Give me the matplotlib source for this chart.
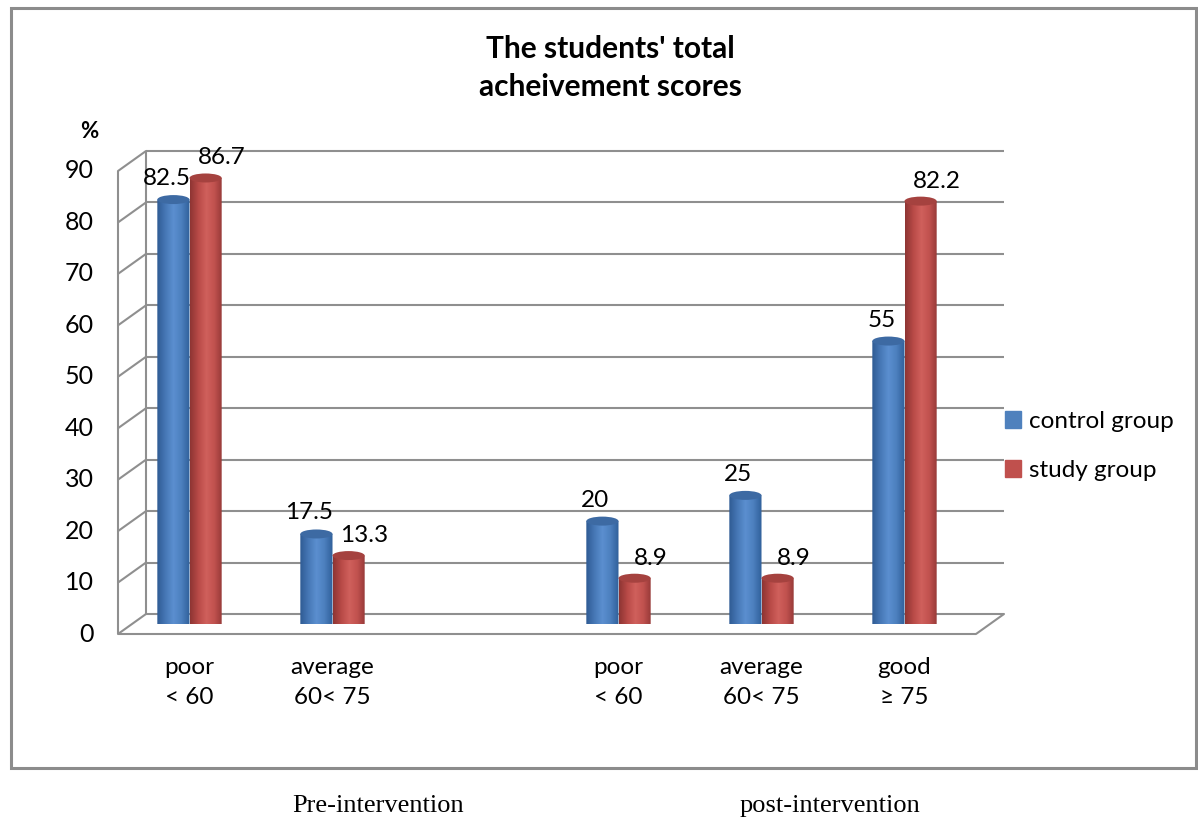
import numpy as np
import matplotlib.pyplot as plt
from matplotlib.colors import LinearSegmentedColormap
from matplotlib.patches import Ellipse, PathPatch, Patch, Rectangle
from matplotlib.path import Path
from matplotlib.transforms import ScaledTranslation

# data
positions = [0, 1, 3, 4, 5]
categories = ["poor\n< 60", "average\n60< 75", "poor\n< 60", "average\n60< 75", "good\n≥ 75"]
control = [82.5, 17.5, 20, 25, 55]
study = [86.7, 13.3, 8.9, 8.9, 82.2]
series_names = ["control group", "study group"]
yticks = list(range(0, 100, 10))
phases = ["Pre-intervention", "post-intervention"]
phase_x = [378, 830]

plt.rcParams['font.family'] = ['Lato', 'DejaVu Sans']

W, H = 1198, 822
fig = plt.figure(figsize=(W / 100, H / 100), dpi=100)
ax = fig.add_axes([118 / W, 1 - 624 / H, 858 / W, 463 / H])
ax.set_xlim(-0.5, 5.5)
ax.set_ylim(0, 90)
ax.patch.set_visible(False)
for s in ax.spines.values():
    s.set_visible(False)
ax.set_yticks([])

# pseudo 3D walls: front plane and back plane offsets (pixels)
front = ax.transData + ScaledTranslation(0, -0.10, fig.dpi_scale_trans)
back = ax.transData + ScaledTranslation(0.28, 0.10, fig.dpi_scale_trans)
grid_c = '#8f8f8f'
lw = 1.5

ax.hlines(yticks, -0.5, 5.5, color=grid_c, lw=lw, transform=back, zorder=1, clip_on=False)
ax.vlines(-0.5, 0, 90, color=grid_c, lw=lw, transform=back, zorder=1, clip_on=False)
ax.vlines(-0.5, 0, 90, color=grid_c, lw=lw, transform=front, zorder=1, clip_on=False)
ax.hlines(0, -0.5, 5.5, color=grid_c, lw=lw, transform=front, zorder=1, clip_on=False)
for v in yticks:
    ax.annotate('', xy=(-0.5, v), xycoords=front, xytext=(28, 20), textcoords='offset pixels',
                arrowprops=dict(arrowstyle='-', color=grid_c, lw=lw, shrinkA=0, shrinkB=0))
    ax.annotate(str(v), xy=(-0.5, v), xycoords=front, xytext=(-24, 0), textcoords='offset pixels',
                ha='right', va='center', fontsize=18)
ax.annotate('', xy=(5.5, 0), xycoords=front, xytext=(28, 20), textcoords='offset pixels',
            arrowprops=dict(arrowstyle='-', color=grid_c, lw=lw, shrinkA=0, shrinkB=0))
ax.annotate('%', xy=(-0.5, 90), xycoords=front, xytext=(-29, 39), textcoords='offset pixels',
            ha='center', va='center', fontsize=16, fontweight='bold')

# cylinders
w = 0.225
eh = 1.75
blue_cm = LinearSegmentedColormap.from_list('b', ['#2f5b94', '#4677b5', '#5b8fd0', '#4c7fbe', '#30609a'])
red_cm = LinearSegmentedColormap.from_list('r', ['#8e3533', '#b84a47', '#d0605c', '#c0514e', '#933836'])
grad = np.linspace(0, 1, 64)[None, :]


def cylinder(xc, h, cmap, top_color, z):
    x0, x1 = xc - w / 2, xc + w / 2
    t = np.linspace(np.pi, 2 * np.pi, 40)
    pts = np.column_stack([xc + w / 2 * np.cos(t), eh / 2 * np.sin(t)])
    pts = np.vstack([[x0, h], pts, [x1, h], [x0, h]])
    body = PathPatch(Path(pts), facecolor='none', edgecolor='none', transform=ax.transData)
    ax.add_patch(body)
    im = ax.imshow(grad, extent=(x0, x1, -eh / 2, h), cmap=cmap, aspect='auto', zorder=z)
    im.set_clip_path(body)
    ax.add_patch(Ellipse((xc, h), w, eh, facecolor=top_color, edgecolor='none', zorder=z + 0.1))


bars_c = ax.bar([p - w / 2 for p in positions], control, w, color='none', zorder=3)
bars_s = ax.bar([p + w / 2 for p in positions], study, w, color='none', zorder=4)
for b, v in zip(bars_c, control):
    cylinder(b.get_x() + w / 2, v, blue_cm, '#3d6aa3', 3)
for b, v in zip(bars_s, study):
    cylinder(b.get_x() + w / 2, v, red_cm, '#a5423f', 4)

for p, v in zip(positions, control):
    ax.annotate(f"{v:g}", xy=(p - w / 2, v), xytext=(-7, 21), textcoords='offset pixels',
                ha='center', va='center', fontsize=17.5, zorder=6)
for p, v in zip(positions, study):
    ax.annotate(f"{v:g}", xy=(p + w / 2, v), xytext=(16, 20), textcoords='offset pixels',
                ha='center', va='center', fontsize=17.5, zorder=6)

ax.set_xlim(-0.5, 5.5)
ax.set_ylim(0, 90)
ax.set_xticks(positions, categories, fontsize=17.5, linespacing=1.5)
ax.tick_params(axis='x', length=0, pad=24)

fig.text(610 / W, 1 - 68 / H, "The students' total\nacheivement scores", ha='center', va='center',
         fontsize=21.5, fontweight='bold', linespacing=1.4)

fig.legend(handles=[Patch(color='#4F81BD'), Patch(color='#C0504D')], labels=series_names,
           loc='center left', bbox_to_anchor=(983 / W, 1 - 446 / H), frameon=False, fontsize=17.5,
           handlelength=0.65, handleheight=0.65, handletextpad=0.35, labelspacing=1.15)

fig.add_artist(Rectangle((11 / W, 1 - 768 / H), 1185 / W, 760 / H, transform=fig.transFigure,
                         fill=False, edgecolor='#8c8c8c', lw=2.2))

for name, x in zip(phases, phase_x):
    fig.text(x / W, 1 - 806 / H, name, ha='center', va='center', fontsize=19,
             family='Liberation Serif')

fig.savefig('out.png', dpi=100)
